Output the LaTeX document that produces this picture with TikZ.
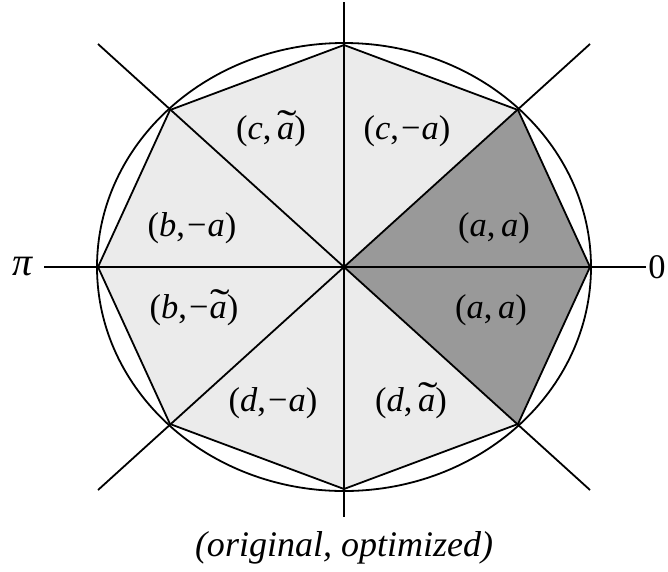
\documentclass[tikz,border=0pt]{standalone}
\usepackage{fontspec}
\usepackage{graphicx}
\setmainfont{Liberation Serif}
\definecolor{lightfill}{RGB}{235,235,235}
\definecolor{darkfill}{RGB}{153,153,153}
\newcommand\vi[1]{\textit{#1}}
\newcommand\tildea{\ooalign{\textit{a}\cr\hidewidth\kern0.1em\raisebox{0.02em}{\scalebox{1.7}[1.2]{\char"02DC}}\hidewidth\cr}}
\newcommand\mn{\kern0.06em\char"2212\kern0.03em}
\begin{document}
\begin{tikzpicture}[x=1pt,y=-1pt, line width=1.8pt, line join=round,
  lbl/.style={font=\fontsize{34.5}{40}\selectfont, inner sep=0pt},
  captext/.style={font=\fontsize{36}{42}\selectfont\itshape, inner sep=0pt}]
\useasboundingbox (0,0) rectangle (668,571);
% centre and octagon vertices
\coordinate (C) at (344,267);
\coordinate (E) at (590,267);
\coordinate (NE) at (518,110);
\coordinate (N) at (344,45);
\coordinate (NW) at (170,110);
\coordinate (W) at (98,267);
\coordinate (SW) at (170,424);
\coordinate (S) at (344,489);
\coordinate (SE) at (518,424);
% line ends
\coordinate (Lw) at (44,267);
\coordinate (Le) at (646,267);
\coordinate (Lt) at (344,2);
\coordinate (Lb) at (344,517);
\coordinate (Lnw) at (98,44);
\coordinate (Lse) at (590,490);
\coordinate (Lsw) at (98,490);
\coordinate (Lne) at (590,44);
% fills
\fill[lightfill] (E)--(NE)--(N)--(NW)--(W)--(SW)--(S)--(SE)--cycle;
\fill[darkfill] (C)--(NE)--(E)--(SE)--cycle;
% outline
\draw (C) ellipse [x radius=247pt, y radius=224pt];
\draw (E)--(NE)--(N)--(NW)--(W)--(SW)--(S)--(SE)--cycle;
\draw (Lw)--(Le);
\draw (Lt)--(Lb);
\draw (Lnw)--(Lse);
\draw (Lsw)--(Lne);
% labels
\node[lbl] (l1) at (271,131) {(\vi{c},\,\tildea)};
\node[lbl] (l2) at (407,131) {(\vi{c},\mn\vi{a})};
\node[lbl] (l3) at (192,228) {(\vi{b},\mn\vi{a})};
\node[lbl] (l4) at (494,228) {(\vi{a},\,\vi{a})};
\node[lbl] (l5) at (194,310) {(\vi{b},\mn\tildea)};
\node[lbl] (l6) at (491,310) {(\vi{a},\,\vi{a})};
\node[lbl] (l7) at (273,403) {(\vi{d},\mn\vi{a})};
\node[lbl] (l8) at (411,403) {(\vi{d},\,\tildea)};
\node[lbl, font=\fontsize{40}{44}\selectfont] (pi) at (23,267) {\vi{π}};
\node[lbl] (zero) at (657,267) {0};
\node[captext] (caption) at (344,548) {(original, optimized)};
\end{tikzpicture}
\end{document}
